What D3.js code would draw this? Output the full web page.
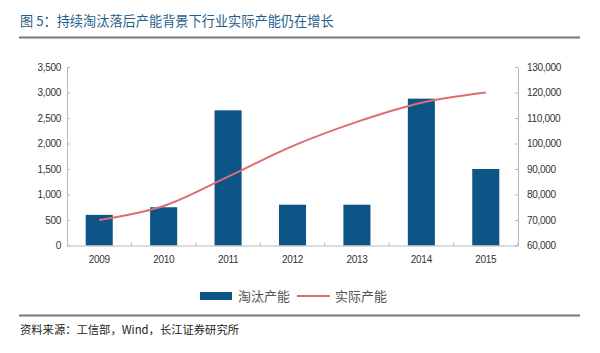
<!DOCTYPE html>
<html>
<head>
<meta charset="utf-8">
<script src="https://cdn.jsdelivr.net/npm/d3@7"></script>
<style>
  body { margin: 0; background: #fff; }
  svg { display: block; font-family: 'Liberation Sans', Arial, 'Noto Sans CJK SC', sans-serif; }
</style>
</head>
<body>
<div id="chart"></div>
<script>
var years = ['2009', '2010', '2011', '2012', '2013', '2014', '2015']
var eliminated = [600, 750, 2650, 800, 800, 2880, 1500]
var actual = [70000, 75500, 87000, 99000, 108500, 116000, 120000]
var left_ticks = [0, 500, 1000, 1500, 2000, 2500, 3000, 3500]
var right_ticks = [60000, 70000, 80000, 90000, 100000, 110000, 120000, 130000]
var legend_labels = ['淘汰产能', '实际产能']

var w = 600
var h = 353
var plot_left = 67
var plot_right = 518
var plot_top = 67
var plot_bottom = 245.5

var bar_color = '#0d5587'
var line_color = '#dc6d70'
var axis_color = '#b8b8b8'

var svg = d3.select('div#chart').append('svg')
  .attr('width', w)
  .attr('height', h)

svg.append('text').text('图 5：持续淘汰落后产能背景下行业实际产能仍在增长')
  .attr('x', 20)
  .attr('y', 26)
  .attr('fill', '#1f5f8b')
  .style('font-family', "'Noto Sans CJK SC', sans-serif")
  .style('font-size', '13.2px')

svg.append('line')
  .attr('x1', 19).attr('x2', 580)
  .attr('y1', 37.5).attr('y2', 37.5)
  .attr('stroke', '#777').attr('stroke-width', 2)

svg.append('line')
  .attr('x1', 19).attr('x2', 580)
  .attr('y1', 315.5).attr('y2', 315.5)
  .attr('stroke', '#777').attr('stroke-width', 2)

svg.append('text').text('资料来源：工信部，Wind，长江证券研究所')
  .attr('x', 20)
  .attr('y', 334)
  .attr('fill', '#222')
  .style('font-family', "'Noto Sans CJK SC', sans-serif")
  .style('font-size', '11.3px')

var x = d3.scaleBand().domain(years).range([plot_left, plot_right]).paddingInner(0.58).paddingOuter(0.29)
var x_outer = d3.scaleBand().domain(years).range([plot_left, plot_right])
var y_left = d3.scaleLinear().domain([0, 3500]).range([plot_bottom, plot_top])
var y_right = d3.scaleLinear().domain([60000, 130000]).range([plot_bottom, plot_top])

// bars
svg.append('g').selectAll('rect')
  .data(eliminated)
  .enter().append('rect')
  .attr('x', function (d, i) { return x(years[i]) })
  .attr('y', function (d) { return y_left(d) })
  .attr('width', x.bandwidth())
  .attr('height', function (d) { return y_left(0) - y_left(d) })
  .attr('fill', bar_color)

// axes
var fmt = d3.format(',')
var ax_left = svg.append('g')
  .attr('transform', 'translate(' + plot_left + ',0)')
  .call(d3.axisLeft(y_left).tickValues(left_ticks).tickFormat(fmt).tickSizeInner(-3).tickSizeOuter(0).tickPadding(6))
var ax_right = svg.append('g')
  .attr('transform', 'translate(' + plot_right + ',0)')
  .call(d3.axisRight(y_right).tickValues(right_ticks).tickFormat(fmt).tickSizeInner(-3).tickSizeOuter(0).tickPadding(9))
var ax_bottom = svg.append('g')
  .attr('transform', 'translate(0,' + plot_bottom + ')')
  .call(d3.axisBottom(x_outer).tickSize(0).tickPadding(10))

ax_bottom.selectAll('.tick').append('line')
  .attr('x1', x_outer.bandwidth() / 2).attr('x2', x_outer.bandwidth() / 2)
  .attr('y1', 0).attr('y2', -3)
  .attr('stroke', axis_color)

;[ax_left, ax_right, ax_bottom].forEach(function (g) {
  g.selectAll('path, line').attr('stroke', axis_color)
  g.selectAll('text').attr('fill', '#333').style('font-size', '10px').style('letter-spacing', '-0.3px')
})

// line
var line = d3.line()
  .x(function (d, i) { return x_outer(years[i]) + x_outer.bandwidth() / 2 })
  .y(function (d) { return y_right(d) })
  .curve(d3.curveCatmullRom.alpha(0.5))

svg.append('path')
  .datum(actual)
  .attr('d', line)
  .attr('fill', 'none')
  .attr('stroke', line_color)
  .attr('stroke-width', 2)

// legend
var lg = svg.append('g').attr('transform', 'translate(200,296)')
lg.append('rect').attr('x', 0).attr('y', -4).attr('width', 32).attr('height', 8).attr('fill', bar_color)
lg.append('text').text(legend_labels[0]).attr('x', 38).attr('y', 0).attr('dy', '0.36em')
lg.append('line').attr('x1', 97).attr('x2', 130).attr('y1', 0).attr('y2', 0).attr('stroke', line_color).attr('stroke-width', 2)
lg.append('text').text(legend_labels[1]).attr('x', 135).attr('y', 0).attr('dy', '0.36em')
lg.selectAll('text')
  .attr('fill', '#555')
  .style('font-family', "'Noto Sans CJK SC', sans-serif")
  .style('font-size', '13px')
</script>
</body>
</html>
